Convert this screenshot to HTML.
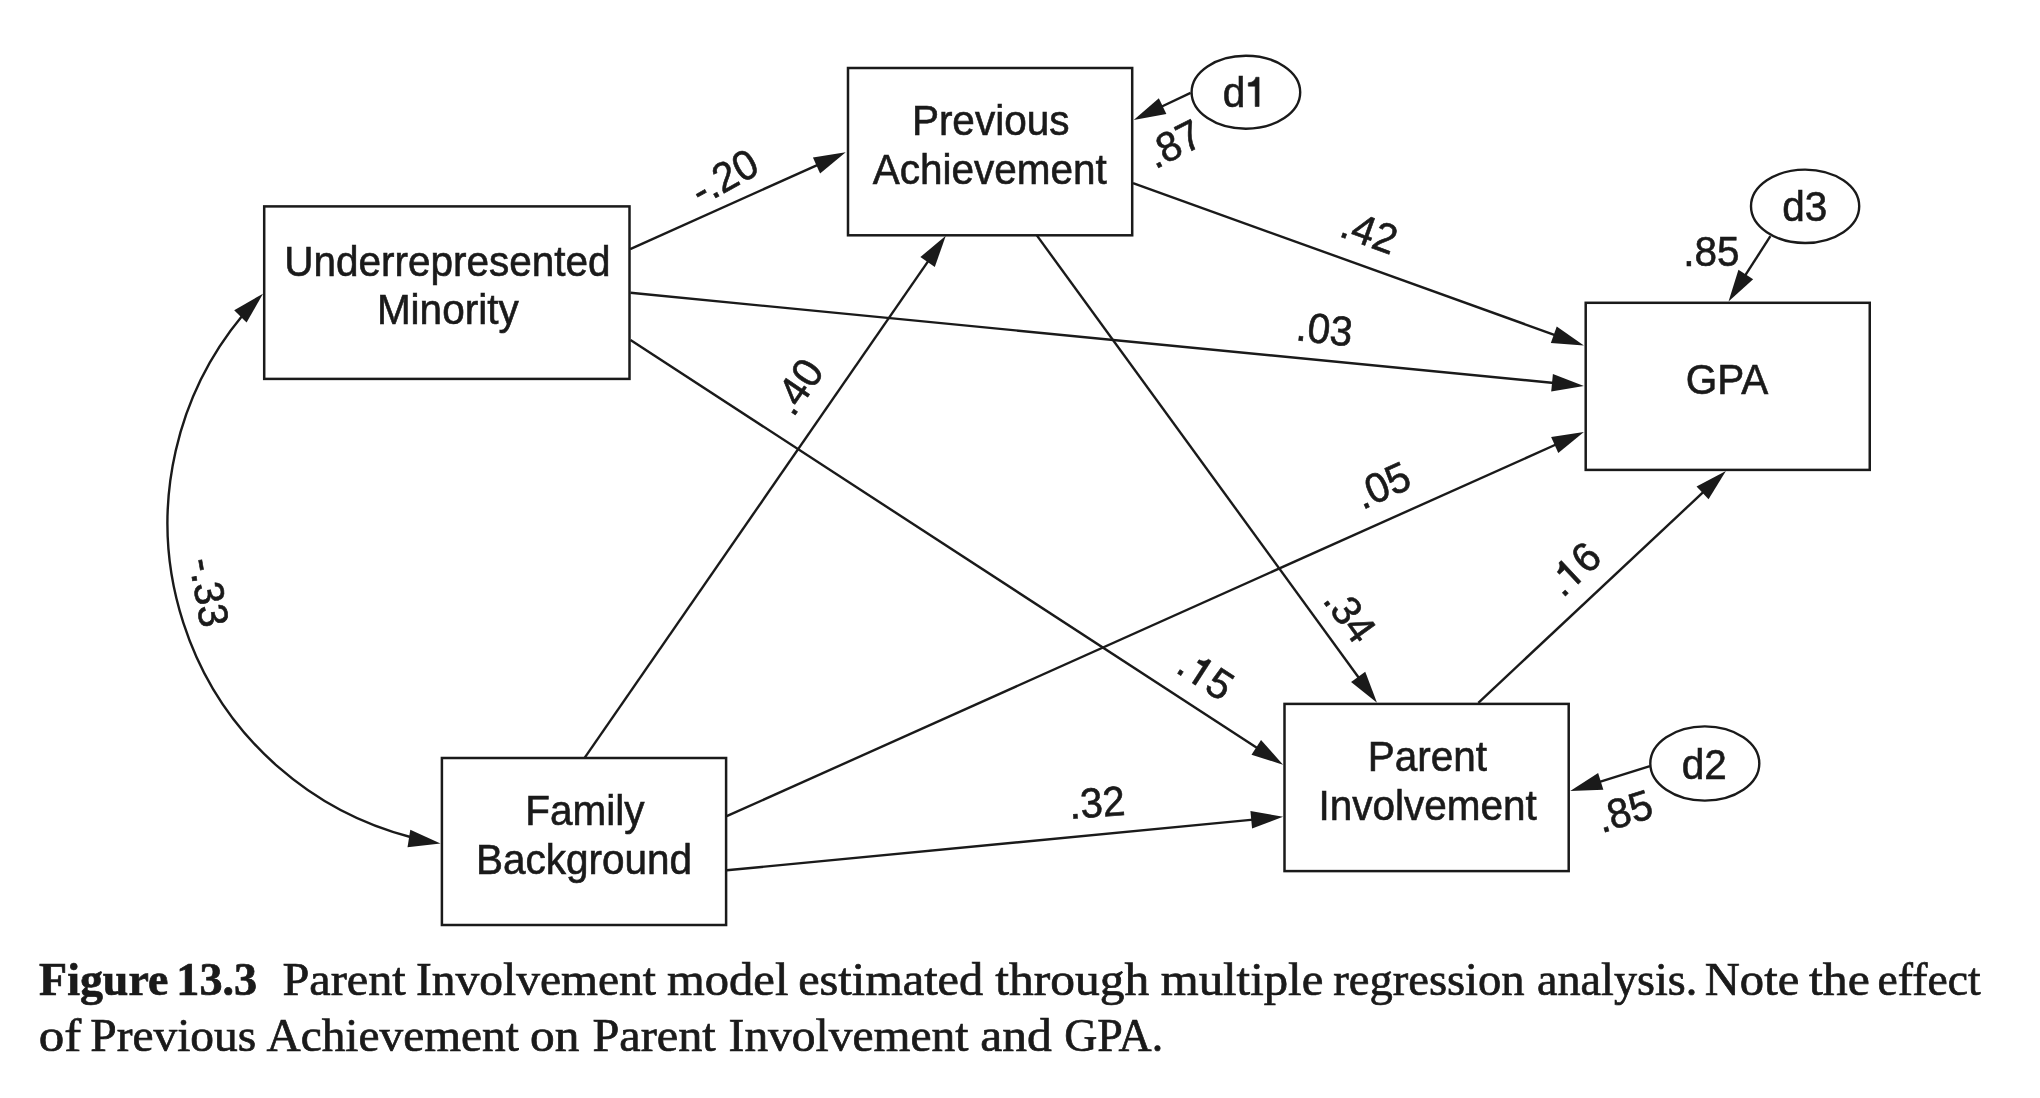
<!DOCTYPE html>
<html><head><meta charset="utf-8"><style>
html,body{margin:0;padding:0;background:#fff;width:2040px;height:1098px;overflow:hidden}
svg{display:block;will-change:transform}
text{font-family:"Liberation Sans",sans-serif;fill:#1a1a1a;stroke:#1a1a1a;stroke-width:0.6px}
.cap{font-family:"Liberation Serif",serif;fill:#1a1a1a;stroke-width:0.7px}
tspan[fill=transparent]{stroke:none}
</style></head><body>
<svg width="2040" height="1098" viewBox="0 0 2040 1098">
<rect x="264.20" y="206.40" width="365.30" height="172.50" fill="none" stroke="#1a1a1a" stroke-width="2.5"/>
<rect x="848.00" y="68.00" width="284.20" height="167.30" fill="none" stroke="#1a1a1a" stroke-width="2.5"/>
<rect x="1585.70" y="302.80" width="284.05" height="167.10" fill="none" stroke="#1a1a1a" stroke-width="2.5"/>
<rect x="441.90" y="758.00" width="284.20" height="167.00" fill="none" stroke="#1a1a1a" stroke-width="2.5"/>
<rect x="1284.50" y="703.90" width="284.20" height="167.20" fill="none" stroke="#1a1a1a" stroke-width="2.5"/>
<ellipse cx="1245.9" cy="92.2" rx="54.3" ry="36.5" fill="none" stroke="#1a1a1a" stroke-width="2.4"/>
<ellipse cx="1805.1" cy="206.3" rx="54.1" ry="36.7" fill="none" stroke="#1a1a1a" stroke-width="2.4"/>
<ellipse cx="1704.8" cy="763.5" rx="54.5" ry="37.1" fill="none" stroke="#1a1a1a" stroke-width="2.4"/>
<line x1="630.20" y1="249.20" x2="818.34" y2="164.60" stroke="#1a1a1a" stroke-width="2.4"/>
<polygon points="845.70,152.30 820.10,173.40 812.93,157.44" fill="#1a1a1a"/>
<line x1="630.50" y1="292.80" x2="1554.04" y2="382.98" stroke="#1a1a1a" stroke-width="2.4"/>
<polygon points="1583.90,385.90 1551.20,391.50 1552.90,374.08" fill="#1a1a1a"/>
<line x1="630.50" y1="340.10" x2="1257.96" y2="748.44" stroke="#1a1a1a" stroke-width="2.4"/>
<polygon points="1283.10,764.80 1251.51,754.68 1261.05,740.01" fill="#1a1a1a"/>
<line x1="584.60" y1="757.90" x2="928.73" y2="260.37" stroke="#1a1a1a" stroke-width="2.4"/>
<polygon points="945.80,235.70 934.79,267.00 920.40,257.04" fill="#1a1a1a"/>
<line x1="726.70" y1="816.20" x2="1556.52" y2="444.27" stroke="#1a1a1a" stroke-width="2.4"/>
<polygon points="1583.90,432.00 1558.28,453.07 1551.12,437.10" fill="#1a1a1a"/>
<line x1="726.70" y1="870.30" x2="1253.24" y2="819.58" stroke="#1a1a1a" stroke-width="2.4"/>
<polygon points="1283.10,816.70 1252.09,828.48 1250.41,811.06" fill="#1a1a1a"/>
<line x1="1133.00" y1="183.10" x2="1555.67" y2="335.33" stroke="#1a1a1a" stroke-width="2.4"/>
<polygon points="1583.90,345.50 1550.83,342.89 1556.76,326.42" fill="#1a1a1a"/>
<line x1="1036.80" y1="235.40" x2="1359.34" y2="678.45" stroke="#1a1a1a" stroke-width="2.4"/>
<polygon points="1377.00,702.70 1351.09,681.98 1365.24,671.68" fill="#1a1a1a"/>
<line x1="1478.30" y1="702.80" x2="1704.00" y2="491.41" stroke="#1a1a1a" stroke-width="2.4"/>
<polygon points="1725.90,470.90 1708.53,499.16 1696.56,486.39" fill="#1a1a1a"/>
<line x1="1190.60" y1="92.90" x2="1160.80" y2="107.04" stroke="#1a1a1a" stroke-width="2.4"/>
<polygon points="1133.70,119.90 1158.86,98.28 1166.36,114.09" fill="#1a1a1a"/>
<line x1="1770.40" y1="236.20" x2="1744.72" y2="276.16" stroke="#1a1a1a" stroke-width="2.4"/>
<polygon points="1728.50,301.40 1738.44,269.75 1753.16,279.21" fill="#1a1a1a"/>
<line x1="1649.90" y1="766.10" x2="1598.84" y2="782.05" stroke="#1a1a1a" stroke-width="2.4"/>
<polygon points="1570.20,791.00 1598.13,773.11 1603.35,789.81" fill="#1a1a1a"/>
<path d="M242.47,315.54 A324.6,324.6 0 0 0 411.18,837.23" fill="none" stroke="#1a1a1a" stroke-width="2.4"/>
<polygon points="263.00,293.70 246.56,322.51 234.19,310.14" fill="#1a1a1a"/>
<polygon points="440.50,843.60 407.52,847.15 410.30,829.87" fill="#1a1a1a"/>
<g transform="translate(447.35,275.50) scale(1,1.05)"><text x="0" y="0" text-anchor="middle" font-size="40.5" >Underrepresented</text></g>
<g transform="translate(447.75,324.40) scale(1,1.05)"><text x="0" y="0" text-anchor="middle" font-size="40.5" >Minority</text></g>
<g transform="translate(990.65,134.60) scale(1,1.05)"><text x="0" y="0" text-anchor="middle" font-size="40.5" >Previous</text></g>
<g transform="translate(989.75,183.90) scale(1,1.05)"><text x="0" y="0" text-anchor="middle" font-size="40.5" >Achievement</text></g>
<g transform="translate(1727.05,393.60) scale(1,1.05)"><text x="0" y="0" text-anchor="middle" font-size="40.5" >GPA</text></g>
<g transform="translate(584.80,824.70) scale(1,1.05)"><text x="0" y="0" text-anchor="middle" font-size="40.5" >Family</text></g>
<g transform="translate(584.00,873.75) scale(1,1.05)"><text x="0" y="0" text-anchor="middle" font-size="40.5" >Background</text></g>
<g transform="translate(1427.45,771.00) scale(1,1.05)"><text x="0" y="0" text-anchor="middle" font-size="40.5" >Parent</text></g>
<g transform="translate(1427.60,819.60) scale(1,1.05)"><text x="0" y="0" text-anchor="middle" font-size="40.5" >Involvement</text></g>
<g transform="translate(1245.30,106.50) scale(1,1.05)"><text x="-22.52" y="0.00" font-size="40.5">d<tspan fill="transparent">1</tspan></text><path d="M696,0 L696,1409 L530,1409 C500,1280 400,1160 152,1141 L152,980 L500,980 L500,0 Z" transform="translate(0.00,0.00) scale(0.01978,-0.01978)" fill="#1a1a1a" stroke="#1a1a1a" stroke-width="30.3"/></g>
<g transform="translate(1804.75,220.80) scale(1,1.05)"><text x="0" y="0" text-anchor="middle" font-size="40.5" >d3</text></g>
<g transform="translate(1704.15,778.90) scale(1,1.05)"><text x="0" y="0" text-anchor="middle" font-size="40.5" >d2</text></g>
<g class="lab" transform="translate(724.20,176.80) rotate(-29) scale(1,1.03)"><text x="-34.89" y="13.92" font-size="40.5">-.20</text></g>
<g class="lab" transform="translate(1173.70,143.85) rotate(-27) scale(1,1.03)"><text x="-28.15" y="13.92" font-size="40.5">.87</text></g>
<g class="lab" transform="translate(1369.30,231.85) rotate(20) scale(1,1.03)"><text x="-28.15" y="13.92" font-size="40.5">.42</text></g>
<g class="lab" transform="translate(1711.30,251.45) rotate(0) scale(1,1.03)"><text x="-28.15" y="13.92" font-size="40.5">.85</text></g>
<g class="lab" transform="translate(1324.60,329.05) rotate(6.5) scale(1,1.03)"><text x="-28.15" y="13.92" font-size="40.5">.03</text></g>
<g class="lab" transform="translate(797.45,386.60) rotate(-55.5) scale(1,1.03)"><text x="-28.15" y="13.92" font-size="40.5">.40</text></g>
<g class="lab" transform="translate(1382.35,485.30) rotate(-24.1) scale(1,1.03)"><text x="-28.15" y="13.92" font-size="40.5">.05</text></g>
<g class="lab" transform="translate(209.10,592.05) rotate(80) scale(1,1.03)"><text x="-34.89" y="13.92" font-size="40.5">-.33</text></g>
<g class="lab" transform="translate(1573.45,568.90) rotate(-43.2) scale(1,1.03)"><text x="-28.15" y="13.92" font-size="40.5">.<tspan fill="transparent">1</tspan>6</text><path d="M696,0 L696,1409 L530,1409 C500,1280 400,1160 152,1141 L152,980 L500,980 L500,0 Z" transform="translate(-16.90,13.92) scale(0.01978,-0.01978)" fill="#1a1a1a" stroke="#1a1a1a" stroke-width="30.3"/></g>
<g class="lab" transform="translate(1350.05,614.85) rotate(53.9) scale(1,1.03)"><text x="-28.15" y="13.92" font-size="40.5">.34</text></g>
<g class="lab" transform="translate(1205.90,674.80) rotate(32.9) scale(1,1.03)"><text x="-28.15" y="13.92" font-size="40.5">.<tspan fill="transparent">1</tspan>5</text><path d="M696,0 L696,1409 L530,1409 C500,1280 400,1160 152,1141 L152,980 L500,980 L500,0 Z" transform="translate(-16.90,13.92) scale(0.01978,-0.01978)" fill="#1a1a1a" stroke="#1a1a1a" stroke-width="30.3"/></g>
<g class="lab" transform="translate(1096.95,802.55) rotate(-4.2) scale(1,1.03)"><text x="-28.15" y="13.92" font-size="40.5">.32</text></g>
<g class="lab" transform="translate(1624.45,811.30) rotate(-17.3) scale(1,1.03)"><text x="-28.15" y="13.92" font-size="40.5">.85</text></g>
<text class="cap" transform="translate(39.10,995.0) scale(0.9877,1)" font-size="46.5" font-weight="bold">Figure</text>
<text class="cap" transform="translate(176.32,995.0) scale(0.9922,1)" font-size="46.5" font-weight="bold">13.3</text>
<text class="cap" transform="translate(282.46,995.0) scale(1.0381,1)" font-size="46.5">Parent</text>
<text class="cap" transform="translate(415.98,995.0) scale(1.0214,1)" font-size="46.5">Involvement</text>
<text class="cap" transform="translate(667.00,995.0) scale(1.0448,1)" font-size="46.5">model</text>
<text class="cap" transform="translate(798.16,995.0) scale(1.0384,1)" font-size="46.5">estimated</text>
<text class="cap" transform="translate(995.30,995.0) scale(1.0648,1)" font-size="46.5">through</text>
<text class="cap" transform="translate(1160.70,995.0) scale(1.0494,1)" font-size="46.5">multiple</text>
<text class="cap" transform="translate(1333.30,995.0) scale(1.0010,1)" font-size="46.5">regression</text>
<text class="cap" transform="translate(1537.01,995.0) scale(0.9930,1)" font-size="46.5">analysis.</text>
<text class="cap" transform="translate(1704.75,995.0) scale(1.0455,1)" font-size="46.5">Note</text>
<text class="cap" transform="translate(1809.00,995.0) scale(1.0714,1)" font-size="46.5">the</text>
<text class="cap" transform="translate(1877.62,995.0) scale(0.9808,1)" font-size="46.5">effect</text>
<text class="cap" transform="translate(38.70,1051.2) scale(1.0974,1)" font-size="46.5">of</text>
<text class="cap" transform="translate(90.28,1051.2) scale(1.0199,1)" font-size="46.5">Previous</text>
<text class="cap" transform="translate(266.50,1051.2) scale(1.0181,1)" font-size="46.5">Achievement</text>
<text class="cap" transform="translate(529.94,1051.2) scale(1.0622,1)" font-size="46.5">on</text>
<text class="cap" transform="translate(592.46,1051.2) scale(1.0381,1)" font-size="46.5">Parent</text>
<text class="cap" transform="translate(728.58,1051.2) scale(1.0209,1)" font-size="46.5">Involvement</text>
<text class="cap" transform="translate(980.33,1051.2) scale(1.0652,1)" font-size="46.5">and</text>
<text class="cap" transform="translate(1064.21,1051.2) scale(0.9856,1)" font-size="46.5">GPA.</text>
</svg>
</body></html>
